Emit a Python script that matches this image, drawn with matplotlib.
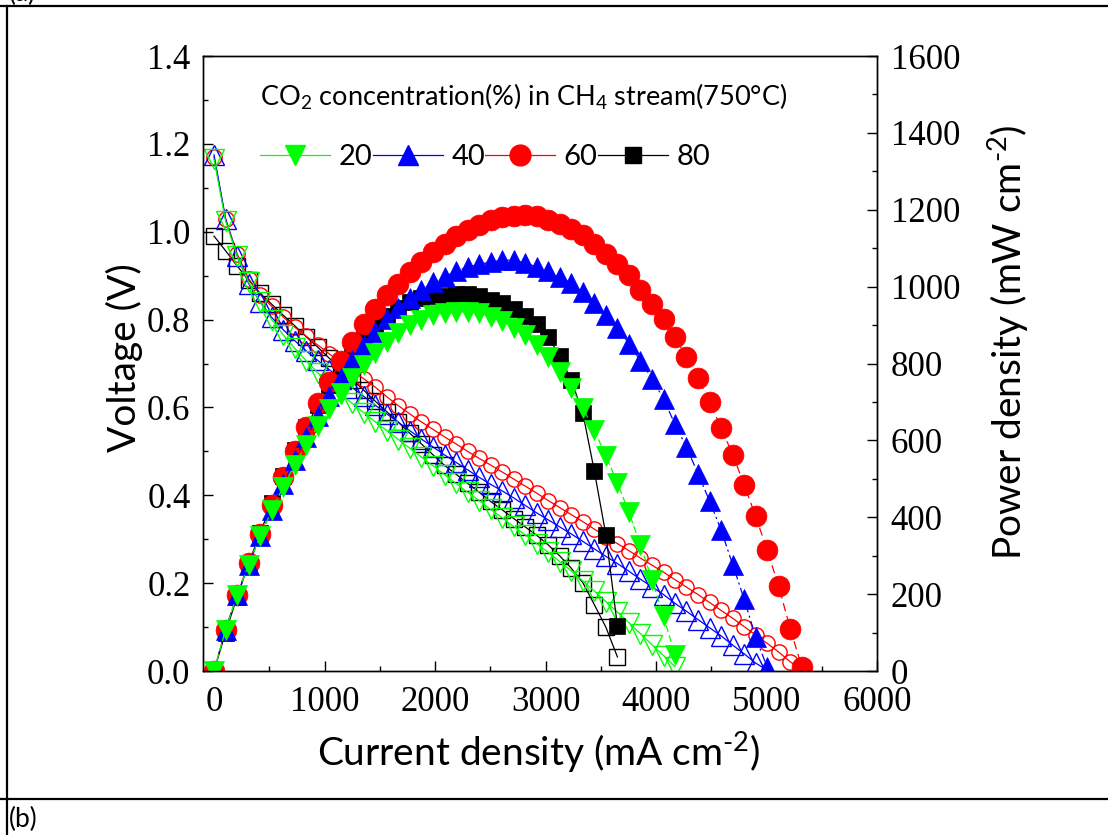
import matplotlib
matplotlib.use('Agg')
import matplotlib.pyplot as plt
from matplotlib.lines import Line2D
from matplotlib.ticker import MultipleLocator

plt.rcParams['font.family'] = ['Lato', 'DejaVu Sans']
plt.rcParams['mathtext.fontset'] = 'custom'
plt.rcParams['mathtext.rm'] = 'Lato'
plt.rcParams['mathtext.it'] = 'Lato:italic'
plt.rcParams['mathtext.bf'] = 'Lato:bold'
plt.rcParams['lines.scale_dashes'] = False

# current density grid (mA cm-2), shared by all runs
current = [0, 104, 209, 313, 417, 522, 626, 730, 834, 939, 1043, 1147, 1252, 1356,
           1460, 1565, 1669, 1773, 1877, 1982, 2086, 2190, 2295, 2399, 2503, 2608,
           2712, 2816, 2920, 3025, 3129, 3233, 3338, 3442, 3546, 3651, 3755, 3859,
           3963, 4068, 4172, 4276, 4381, 4485, 4589, 4694, 4798, 4902, 5006, 5111,
           5215, 5319]

# voltage (V)
v20 = [1.165, 1.025, 0.945, 0.885, 0.840, 0.800, 0.765, 0.735, 0.706, 0.679, 0.653,
       0.630, 0.609, 0.588, 0.567, 0.547, 0.527, 0.507, 0.487, 0.467, 0.447, 0.427,
       0.407, 0.388, 0.368, 0.349, 0.329, 0.310, 0.290, 0.270, 0.249, 0.228, 0.205,
       0.182, 0.158, 0.134, 0.110, 0.085, 0.060, 0.035, 0.010]
v40 = [1.175, 1.030, 0.945, 0.882, 0.840, 0.805, 0.777, 0.752, 0.729, 0.707, 0.686,
       0.665, 0.645, 0.625, 0.605, 0.585, 0.566, 0.547, 0.528, 0.510, 0.492, 0.475,
       0.458, 0.441, 0.425, 0.410, 0.394, 0.377, 0.360, 0.344, 0.328, 0.312, 0.295,
       0.278, 0.261, 0.2445, 0.227, 0.209, 0.192, 0.174, 0.154, 0.136, 0.117, 0.0985,
       0.080, 0.059, 0.039, 0.018, 0.002]
v60 = [1.170, 1.030, 0.950, 0.893, 0.857, 0.830, 0.806, 0.783, 0.762, 0.742, 0.722,
       0.703, 0.684, 0.665, 0.646, 0.624, 0.604, 0.585, 0.567, 0.550, 0.533, 0.517,
       0.500, 0.484, 0.469, 0.453, 0.437, 0.421, 0.405, 0.388, 0.372, 0.356, 0.340,
       0.323, 0.306, 0.290, 0.274, 0.257, 0.241, 0.225, 0.208, 0.191, 0.174, 0.156,
       0.138, 0.120, 0.101, 0.082, 0.063, 0.043, 0.021, 0.002]
v80 = [0.990, 0.957, 0.922, 0.890, 0.860, 0.835, 0.810, 0.786, 0.761, 0.737, 0.712,
       0.688, 0.663, 0.639, 0.614, 0.590, 0.566, 0.541, 0.517, 0.492, 0.468, 0.448,
       0.427, 0.407, 0.386, 0.367, 0.347, 0.328, 0.309, 0.287, 0.262, 0.234, 0.201,
       0.151, 0.100, 0.032]

# power density (mW cm-2)
p20 = [0, 107, 198, 277, 350, 418, 479, 537, 589, 638, 681, 723, 762, 797, 828, 856,
       880, 899, 914, 926, 932, 935, 934, 931, 921, 910, 892, 873, 847, 817, 779, 737,
       684, 626, 560, 489, 413, 328, 238, 142, 42]
p40 = [0, 107, 198, 276, 350, 420, 486, 549, 608, 664, 716, 763, 808, 848, 883, 916,
       945, 970, 991, 1011, 1026, 1040, 1051, 1058, 1064, 1069, 1069, 1062, 1051, 1041,
       1026, 1009, 985, 957, 926, 893, 852, 807, 761, 708, 642, 582, 513, 442, 367,
       277, 187, 88, 10]
p60 = [0, 107, 199, 280, 357, 433, 505, 572, 636, 697, 753, 806, 856, 902, 943, 977,
       1008, 1037, 1064, 1090, 1112, 1132, 1148, 1161, 1174, 1181, 1185, 1186, 1183,
       1174, 1164, 1151, 1135, 1112, 1085, 1059, 1029, 992, 955, 915, 868, 817, 762,
       700, 633, 563, 485, 402, 315, 220, 110, 11]
p80 = [0, 100, 193, 279, 359, 436, 507, 574, 635, 692, 743, 789, 830, 866, 896, 923,
       945, 959, 970, 975, 976, 981, 980, 976, 966, 957, 941, 924, 902, 868, 820, 757,
       671, 520, 355, 117]

labels = ['20', '40', '60', '80']
colors = ['#00ff00', '#0000ff', '#ff0000', '#000000']
markers = ['v', '^', 'o', 's']
volts = [v20, v40, v60, v80]
powers = [p20, p40, p60, p80]
dashes = [(0, (5, 2.5)), (0, (6, 2.5, 1.5, 2.5)), (0, (6, 3.5)), '-']
ms_open = [14, 14, 11, 11]
ms_fill = [14, 14, 15, 11.5]

fig = plt.figure(figsize=(11.08, 8.35), dpi=100)
ax = fig.add_axes([0.1832, 0.1964, 0.6083, 0.7365])
ax2 = ax.twinx()

# draw 80 first so 20 ends on top
for i in [3, 2, 1, 0]:
    x = current[:len(volts[i])]
    ax.plot(x, volts[i], color=colors[i], lw=0.9, marker=markers[i], ms=ms_open[i],
            mfc='none', mec=colors[i], mew=1.0)
    ax2.plot(x, powers[i], color=colors[i], lw=0.9, ls=dashes[i], marker=markers[i],
             ms=ms_fill[i], mfc=colors[i], mec=colors[i], mew=0.5)

ax.set_xlim(-100, 6000)
ax.set_ylim(0, 1.4)
ax2.set_ylim(0, 1600)

ax.xaxis.set_major_locator(MultipleLocator(1000))
ax.xaxis.set_minor_locator(MultipleLocator(500))
ax.yaxis.set_major_locator(MultipleLocator(0.2))
ax.yaxis.set_minor_locator(MultipleLocator(0.1))
ax2.yaxis.set_major_locator(MultipleLocator(200))
ax2.yaxis.set_minor_locator(MultipleLocator(100))
ax.yaxis.set_major_formatter(plt.FormatStrFormatter('%.1f'))

for a in (ax, ax2):
    a.tick_params(which='major', direction='in', length=7, width=1.0,
                  labelsize=25, labelfontfamily='Liberation Serif')
    a.tick_params(which='minor', direction='in', length=3.6, width=1.0)
    for s in a.spines.values():
        s.set_linewidth(1.0)
ax.tick_params(axis='y', which='both', left=True, right=False, pad=9)
ax.tick_params(axis='x', which='both', bottom=True, top=False, pad=11)
ax2.tick_params(axis='y', which='both', right=True, left=False, pad=10)

ax.set_xlabel(r'Current density (mA cm$^{\text{-}2}$)', fontsize=28)
ax.set_ylabel('Voltage (V)', fontsize=28)
ax2.set_ylabel(r'Power density (mW cm$^{\text{-}2}$)', fontsize=28)
ax.xaxis.set_label_coords(0.4985, -0.096)
ax.yaxis.set_label_coords(-0.089, 0.51)
ax2.yaxis.set_label_coords(1.161, 0.535)

fig.text(260 / 1108, 1 - 97 / 835, r'CO$_2$ concentration(%) in CH$_4$ stream(750°C)',
         fontsize=19.5, ha='left', va='center')

handles = [Line2D([], [], color=colors[i], lw=0.9, marker=markers[i], ms=ms_fill[i],
                  mfc=colors[i], mec=colors[i]) for i in range(4)]
ax2.legend(handles, labels, ncol=4, loc='center left',
           bbox_to_anchor=(260 / 1108, 1 - 157 / 835), bbox_transform=fig.transFigure,
           frameon=False, fontsize=21, handlelength=2.4, handletextpad=0.3,
           columnspacing=0.0, borderpad=0, borderaxespad=0)

# panel frame
fig.add_artist(Line2D([0, 1], [1 - 6 / 835, 1 - 6 / 835], color='black', lw=1.6,
                      transform=fig.transFigure))
fig.add_artist(Line2D([0, 1], [1 - 798.5 / 835, 1 - 798.5 / 835], color='black', lw=1.6,
                      transform=fig.transFigure))
fig.add_artist(Line2D([7 / 1108, 7 / 1108], [0, 1 - 6 / 835], color='black', lw=1.6,
                      transform=fig.transFigure))
fig.text(9 / 1108, 1 - 1 / 835, '(a)', fontsize=19, ha='left', va='baseline')
fig.text(9 / 1108, 1 - 819 / 835, '(b)', fontsize=19, ha='left', va='center')

fig.savefig('out.png', dpi=100)
